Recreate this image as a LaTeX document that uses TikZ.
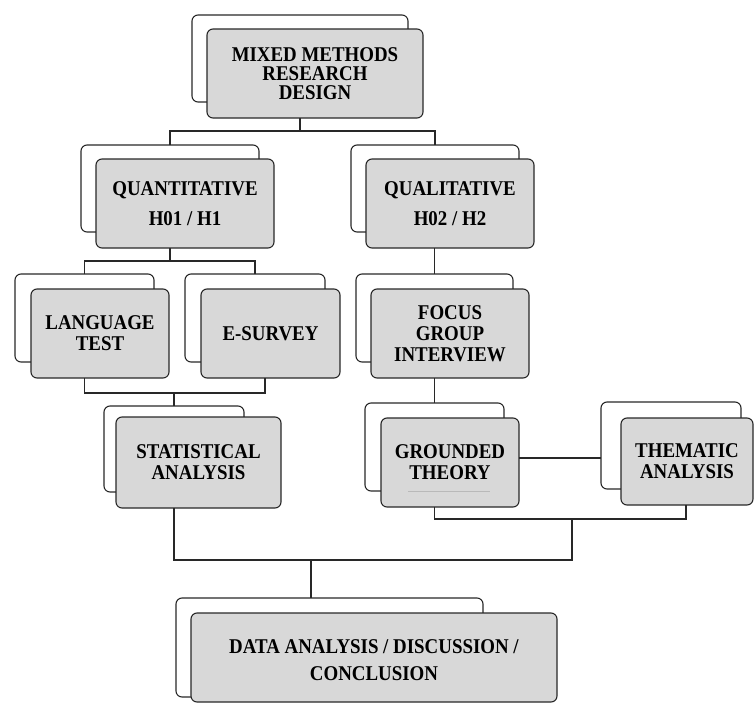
\documentclass[tikz,border=0pt]{standalone}
\usepackage{fontspec}
\setmainfont{Liberation Serif}[FakeStretch=0.9]
\definecolor{boxgray}{RGB}{216,216,216}
\definecolor{linegray}{RGB}{40,40,40}
\tikzset{
  backbox/.style={draw=linegray, line width=1.1pt, rounded corners=6pt, fill=white, outer sep=0pt, inner sep=0pt},
  frontbox/.style={draw=linegray, line width=1.1pt, rounded corners=6pt, fill=boxgray, outer sep=0pt, inner sep=2pt, align=center, font=\bfseries\fontsize{21}{21}\selectfont},
  conn/.style={draw=linegray, line width=1.1pt}
}
\begin{document}
\begin{tikzpicture}[x=1pt,y=-1pt]
\useasboundingbox (0,0) rectangle (755,704);
% junction levels and free x positions
\coordinate (jA) at (0,131);
\coordinate (jB) at (0,261);
\coordinate (jC) at (0,393);
\coordinate (jD) at (0,519);
\coordinate (jE) at (0,560);
\coordinate (gy) at (0,458);
\coordinate (xE) at (265,0);
\coordinate (xT) at (686,0);
\coordinate (xJ) at (572,0);
\coordinate (xB) at (311,0);
% back boxes
\node[backbox, minimum width=216pt, minimum height=87pt] (topB) at (300,58.5) {};
\node[backbox, minimum width=178pt, minimum height=87pt] (quantB) at (170,188.5) {};
\node[backbox, minimum width=168pt, minimum height=87pt] (qualB) at (435,188.5) {};
\node[backbox, minimum width=139pt, minimum height=88pt] (langB) at (84.5,318) {};
\node[backbox, minimum width=140pt, minimum height=88pt] (esurvB) at (255,318) {};
\node[backbox, minimum width=157pt, minimum height=88pt] (focusB) at (434.5,318) {};
\node[backbox, minimum width=140pt, minimum height=86pt] (statB) at (174,449) {};
\node[backbox, minimum width=139pt, minimum height=88pt] (groundB) at (434.5,447) {};
\node[backbox, minimum width=140pt, minimum height=87pt] (themB) at (671,445.5) {};
\node[backbox, minimum width=307pt, minimum height=99pt] (botB) at (329.5,647.5) {};
% front boxes
\node[frontbox, minimum width=216pt, minimum height=89pt] (top) at (315,73.5) {MIXED METHODS\\[-2pt]RESEARCH\\[-2pt]DESIGN};
\node[frontbox, minimum width=178pt, minimum height=89pt] (quant) at (185,203.5) {QUANTITATIVE\\[9pt]H01 / H1};
\node[frontbox, minimum width=168pt, minimum height=89pt] (qual) at (450,203.5) {QUALITATIVE\\[9pt]H02 / H2};
\node[frontbox, minimum width=138pt, minimum height=89pt] (lang) at (100,333.5) {LANGUAGE\\TEST};
\node[frontbox, minimum width=139pt, minimum height=89pt] (esurv) at (270.5,333.5) {E-SURVEY};
\node[frontbox, minimum width=158pt, minimum height=89pt] (focus) at (450,333.5) {FOCUS\\GROUP\\INTERVIEW};
\node[frontbox, minimum width=165pt, minimum height=91pt] (stat) at (198.5,462.5) {STATISTICAL\\ANALYSIS};
\node[frontbox, minimum width=138pt, minimum height=89pt] (ground) at (450,462.5) {GROUNDED\\THEORY};
\node[frontbox, minimum width=132pt, minimum height=87pt] (them) at (687,461.5) {THEMATIC\\ANALYSIS};
\node[frontbox, minimum width=366pt, minimum height=89pt] (bot) at (374,657.5) {\rule{0pt}{20pt}DATA ANALYSIS / DISCUSSION /\\[6pt]CONCLUSION};
% faint rule under THEORY
\draw[gray!55, line width=0.6pt] (408,491) -- (490,491);
% connectors
\draw[conn] (topB.south |- top.south) -- (topB.south |- jA);
\draw[conn] (quantB.north) -- (quantB.north |- jA) -- (qualB.north |- jA) -- (qualB.north);
\draw[conn] (quantB.south |- quant.south) -- (quantB.south |- jB);
\draw[conn] (langB.north) -- (langB.north |- jB) -- (esurvB.north |- jB) -- (esurvB.north);
\draw[conn] (focusB.north |- qual.south) -- (focusB.north);
\draw[conn] (langB.south |- lang.south) -- (langB.south |- jC) -- (xE |- jC) -- (xE |- esurv.south);
\draw[conn] (statB.north |- jC) -- (statB.north);
\draw[conn] (groundB.north |- focus.south) -- (groundB.north);
\draw[conn] (ground.east |- gy) -- (themB.west |- gy);
\draw[conn] (groundB.south |- ground.south) -- (groundB.south |- jD) -- (xT |- jD) -- (xT |- them.south);
\draw[conn] (statB.south |- stat.south) -- (statB.south |- jE) -- (xJ |- jE) -- (xJ |- jD);
\draw[conn] (xB |- jE) -- (xB |- botB.north);
\end{tikzpicture}
\end{document}
